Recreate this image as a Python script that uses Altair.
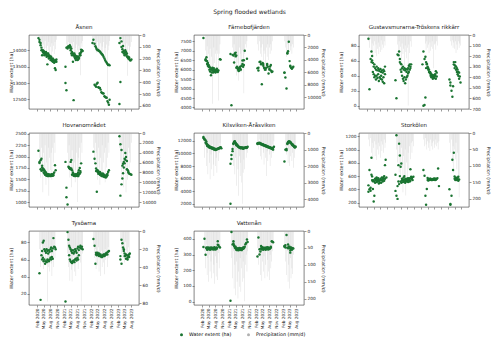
import altair as alt
import pandas as pd

N = None

# observation dates (shared by all sites)
season_days = ["02-20", "03-05", "03-20", "04-01", "04-10", "04-20", "05-01", "05-10", "05-20",
               "06-01", "06-10", "06-20", "07-01", "07-10", "07-20", "08-01", "08-10", "08-20",
               "09-01", "09-10", "09-20", "10-01", "10-10", "10-20", "11-01"]
years = [2020, 2021, 2022, 2023]
last_year_count = 17
dates = [f"{y}-{d}" for y in years for d in (season_days if y < 2023 else season_days[:last_year_count])]

month_ticks = [(2020, 2), (2020, 5), (2020, 8), (2020, 11), (2021, 2), (2021, 5), (2021, 8), (2021, 11),
               (2022, 2), (2022, 5), (2022, 8), (2022, 11), (2023, 2), (2023, 5), (2023, 8)]

# ---------------- Åsnen ----------------
asn_w = [14370, 14320, 14220, 14080, 14000, 13950, 13900, 13950, 13920, 13880, 13850, 13900, 13820, 13850, 13780, 13800, 13760, 13720, 13750, 13700, 13680, 13650, 13700, 13720, N,
         13500, 14080, 14100, 14120, 14100, 14080, 14100, 14050, 13950, 13900, 13850, 13800, 13850, 13780, 13750, 13800, 13720, 13780, 13850, 13900, 13950, 14000, 13980, N, N,
         14220, 14320, 14200, 14120, 14080, 14030, 14000, 14010, 13980, 13960, 13930, 13900, 13880, 13850, 13800, 13750, 13700, 13660, 13620, 13580, 13550, 13560, 13540, N, N,
         14220, 14370, 14270, 14030, 14130, 13980, 13930, 14000, 13880, 13900, 13790, 13800, 13740, 13700, 13690, 13720, N]
asn_w2 = [N, 14250, 14150, 14000, 13850, 14000, 13980, 13850, 13900, 13950, 13800, 13570, 13900, 13750, 13830, 13700, 13800, 13680, 13650, 13720, 13620, 13450, 13400, 13650, N,
          13000, 12780, 14050, 14100, N, 14150, 14000, 13900, 13850, 13650, 12480, 13900, 13750, 13700, 13820, 13700, 13800, 13750, 13900, 13850, 14020, N, N, N, N,
          N, N, 12950, 12920, 12890, 12980, 13010, 12870, 12860, 12850, 12800, 12720, 12700, 12690, 12680, 12600, 12580, 12560, 12550, 12450, 12410, 12340, 12490, N, N,
          12360, 13030, 14100, 13950, N, 13900, 13850, N, 13950, 13820, N, 13750, 13780, N, N, N, N]
asn_p = [40, 90, 30, 120, 60, 150, 80, 140, 50, 110, 170, 90, 130, 60, 150, 100, 200, 70, 140, 90, 160, 60, 120, 40, N,
         N, 80, 120, 60, 140, 100, 180, 70, 150, 120, 60, 170, 110, 190, 80, 130, 160, 90, 120, 340, 70, 100, 50, N, N,
         60, 100, 40, 130, 80, 150, 60, 120, 90, 160, 70, 140, 100, 180, 60, 150, 110, 200, 80, 600, 130, 90, 50, N, N,
         50, 90, 30, 110, 60, 140, 80, 120, 160, 70, 345, 90, 170, 130, 100, 60, N]

# ---------------- Färnebofjärden ----------------
far_w = [7670, N, 6500, 6650, 6450, 6350, 6250, 6170, 6100, 6000, 6050, 5950, 6000, 6080, 5900, 5950, 6000, 5920, 5950, 5950, N, 6550, 6530, N, N,
         6830, 4120, 6780, 6750, 6380, 6850, 6900, 6750, 6150, 6070, 5930, 6100, 6050, 6000, 6200, 6480, 6150, 6250, 7000, N, N, 6580, N, N, N,
         6070, 5950, 6400, 6420, 6280, 5230, 6350, 6300, 6100, 6050, 6000, 6100, 6250, 6150, 5800, 6000, 6170, 6250, 5880, 5900, N, N, N, N, N,
         5850, 5580, 5000, 6880, 6970, 7470, 6450, 6170, 6100, 6050, 6100, 6150, N, N, N, N, N]
far_w2 = [N, N, 6550, 6450, 6300, 6200, 6150, 6000, 5900, 5700, 5850, 6100, 5850, 5900, 6000, 5850, 5900, 6050, 5880, N, N, N, N, N, N,
          N, N, N, N, N, 6820, 6700, 6100, N, 6000, N, 5950, 6150, N, N, 6300, N, 6500, N, N, N, N, N, N, N,
          N, 6100, N, N, 6300, N, N, 6200, N, 6000, N, N, 6300, N, N, 6050, N, 5950, N, N, N, N, N, N, N,
          5830, N, N, 6850, N, N, N, 6200, N, 6080, N, N, N, N, N, N, N]
far_p = [N, N, 2500, 4000, 1800, 5500, 3000, 4500, 2200, 5000, 3500, 11000, 6000, 2000, 4500, 3000, 5500, 2500, 3000, 10500, 3000, 1500, N, N, N,
         N, N, 2000, 3500, 1500, 5000, 2500, 6500, 3000, 4500, 7300, 2000, 5500, 3000, 6000, 2500, 4500, 9350, 3000, 1500, 2000, 1000, N, N, N,
         1500, 2500, 1000, 3000, 2000, 3500, 1500, 4000, 2500, 3000, 5500, 2000, 3500, 1500, 4000, 2000, 3000, 1500, 2500, 1000, N, N, N, N, N,
         1000, 2000, 3500, 1500, 2500, 3000, 1200, 2500, 1800, 3000, 1500, 2000, N, N, N, N, N]

# ---------------- Gustavsmurarna-Tröskens rikkärr ----------------
gus_w = [89, 22, 62, 72, 66, 57, 52, 55, 50, 48, 52, 47, 50, 48, 46, 49, 45, 47, 44, 48, 46, 52, N, N, N,
         34, 10, 68, 67, 72, 62, 56, 55, 50, 52, 48, 50, 47, 49, 45, 48, 50, 53, 55, 52, 55, N, N, N, N,
         55, 72, 62, 65, 58, 55, 52, 50, 48, 45, 44, 42, 40, 41, 38, 40, 42, 46, 44, N, N, N, N, N, N,
         35, 31, 20, 12, 26, 58, 54, 58, 52, 50, 48, 45, 44, 39, 31, N, N]
gus_w2 = [N, N, N, 58, 60, 45, 42, 38, 40, 35, 40, 37, 42, 33, 38, 36, 40, 35, 32, 38, 30, 42, N, N, N,
          N, N, N, N, N, 58, 48, 45, 40, 36, 33, 38, 30, 35, 38, 40, 43, 45, 48, 50, N, N, N, N, N,
          N, 0, 1, 11, 50, 56, 50, 48, 45, 43, 40, 38, 40, 36, 38, 37, 40, 36, 39, N, N, N, N, N, N,
          N, 27, N, N, N, 55, 50, 53, 48, 45, 42, 40, 36, N, N, N, N]
gus_p = [60, 120, 40, 150, 80, 190, 100, 60, 170, 90, 200, 130, 70, 180, 110, 160, 50, 140, 90, 120, 60, 100, N, N, N,
         N, N, 90, 150, 60, 200, 110, 250, 80, 180, 130, 290, 100, 160, 220, 120, 666, 90, 170, 60, 110, N, N, N, N,
         N, N, N, 80, 140, 60, 120, 90, 170, 70, 150, 110, 60, 130, 315, 90, 80, 140, 60, 100, N, N, N, N, N,
         N, 60, 100, 50, 120, 70, 130, 60, 170, 90, 140, 60, 120, 80, 100, N, N]

# ---------------- Hovranområdet ----------------
hov_w = [2128, 1860, 1917, 1950, 1800, 1740, 1720, 1700, 1670, 1650, 1620, 1610, 1600, 1590, 1580, 1600, 1590, 1580, 1600, 1620, 1650, 1810, 1700, N, N,
         1882, 1318, 947, 1776, 1760, 1750, 1882, 1925, 1700, 1650, 1620, 1600, 1590, 1610, 1600, 1620, 1650, 1700, 1750, 1650, 1850, N, N, N, N,
         N, 2107, 1951, 1850, 1740, 1228, 1700, 1680, 1650, 1660, 1640, 1620, 1600, 1630, 1610, 1590, 1580, 1570, 1600, 1620, 1660, 1700, N, N, N,
         2445, 2268, 2141, 1800, 1840, 1880, 1951, 2075, 1990, 1900, 1705, 1680, 1630, 1620, 1610, 1600, N]
hov_w2 = [N, 1880, 1720, 1690, 1760, 1700, 1650, 1630, 1600, 1590, 1580, 1600, 1570, 1610, 1590, 1570, 1600, 1610, 1580, 1590, N, N, N, N, N,
          N, 1107, N, N, 1750, 1730, 1720, 1740, 1600, 1620, 1580, 1590, 1570, 1600, 1580, 1590, 1570, 1600, 1620, 1680, N, N, N, N, N,
          N, N, N, N, 1680, 1700, 1660, 1620, 1640, 1600, 1610, 1580, 1570, 1590, 1560, 1550, 1560, 1540, 1560, 1590, N, N, N, N, N,
          N, 1143, 1390, 1517, 1635, 1760, 1850, 1930, N, 1720, N, 1650, N, N, N, N, N]
hov_p = [N, 5000, 9000, 3000, 7000, 12000, 4000, 8000, 2500, 10500, 6000, 9000, 3000, 12700, 5000, 7500, 4000, 9500, 3000, 6000, 2000, 4000, N, N, N,
         N, N, 4000, 7000, 2500, 9000, 5000, 11000, 3500, 8000, 9000, 6000, 10000, 7500, 4000, 14000, 5000, 8500, 3000, 6500, 2000, 4000, N, N, N,
         N, 3000, 6000, 2000, 8000, 4000, 9500, 3000, 7000, 10500, 5000, 8000, 2500, 9000, 6000, 4000, 10000, 3000, 7000, 5000, 2000, 4000, N, N, N,
         3000, 6000, 9000, 2500, 7000, 11000, 4000, 8000, 12000, 5000, 9500, 3000, 7000, 4000, 6000, 2000, N]

# ---------------- Kilsviken-Åråsviken ----------------
kil_w = [12600, 12340, 12090, 11850, 11450, 11300, 11200, 11100, 11050, 11000, 10950, 10900, 10850, 10800, 10750, 10700, 10650, 10700, 10750, 10800, 10850, 10900, 11000, 10800, N,
         8360, 9100, 10360, 11600, 11850, 11950, 11700, 11450, 11400, 11200, 11100, 11000, 10950, 11000, 10900, 10950, 10900, 10850, 10900, 10950, 11000, 10900, 11050, N, N,
         11600, 11650, 11700, 11600, 11550, 11500, 11450, 11400, 11350, 11300, 11250, 11200, 11150, 11100, 11050, 11000, 10950, 10900, 10850, 10800, 10900, 11050, N, N, N,
         8700, 10600, 10700, 11600, 11800, 11900, 11900, 11800, 11700, 11500, 11450, 11300, 11150, 11000, 11100, N, N]
kil_w2 = [12430, 12200, 11700, 11500, 11200, 11150, 11000, 10950, 10900, 10850, 10800, 10750, 10700, 10650, 10600, 10550, 10600, 10650, 10700, 10750, 10800, 10850, 10900, N, N,
          2000, 9760, 10700, 11500, 11700, 11800, 11600, 11300, 11250, 11100, 11000, 10900, 10850, 10800, 10850, 10800, 10750, 10800, 10850, 10900, 10850, 11000, N, N, N,
          11500, 11550, 11600, 11500, 11450, 11400, 11350, 11300, 11250, 11200, 11150, 11100, 11050, 11000, 10950, 10900, 10850, 10800, 10750, 10700, 10600, N, N, N, N,
          N, N, 10500, 11500, 11700, 11850, 11800, 11700, 11600, 11400, 11300, 11200, 11050, 10950, 11000, N, N]
kil_p = [500, 1500, 800, 2000, 1200, 2500, 900, 1800, 2800, 1300, 2200, 700, 1900, 2600, 1100, 2000, 1500, 2400, 800, 1700, 1200, 600, 1000, N, N,
         N, N, 1200, 2000, 900, 2500, 1500, 3200, 1000, 2200, 3800, 1400, 2600, 1800, 3000, 4280, 2400, 1600, 2200, 900, 1500, 700, 1200, N, N,
         600, 1000, 400, 1400, 800, 1600, 700, 1200, 1900, 900, 1500, 2600, 1100, 1700, 800, 1300, 2000, 1000, 1500, 700, 1200, 500, N, N, N,
         N, 800, 1300, 600, 1800, 1000, 2000, 1400, 900, 1700, 1200, 2100, 800, 1500, 1000, N, N]

# ---------------- Storkölen ----------------
sto_w = [461, 693, 426, 875, 596, 523, 219, 306, 560, 540, 580, 520, 550, 530, 500, 560, 540, 580, 520, 560, 600, 765, 846, 580, N,
         620, 1215, 450, 765, 1088, 910, 740, 790, 560, 540, 580, 600, 520, 560, 550, 530, 570, 540, 520, 702, 560, 580, 540, 590, N,
         N, 693, 606, 306, 171, 406, 571, 550, 540, 560, 550, 540, 545, 555, 560, 550, 540, 560, 555, 570, 716, 450, N, N, N,
         403, 171, 306, 846, 693, 950, 596, 567, 571, 540, 560, 590, 550, N, N, N, N]
sto_w2 = [364, 403, 380, 620, 540, 406, 540, 520, 500, 560, 510, 540, 570, 490, 530, 550, 500, 540, 560, 580, 530, 560, N, N, N,
          378, 306, 258, 520, 480, 600, 520, 500, 540, 510, 530, 550, 500, 540, 520, 560, 510, 550, 570, 530, 590, 560, N, N, N,
          N, N, N, N, N, N, 540, 535, 555, 545, 560, 550, 540, 550, 545, 565, 555, 545, N, N, N, N, N, N, N,
          N, 180, N, N, N, N, 560, 540, 555, 575, 545, 530, N, N, N, N, N]
sto_p = [20, 40, 15, 60, 30, 80, 45, 25, 70, 35, 82, 50, 30, 65, 40, 75, 25, 55, 35, 60, 20, 45, 30, N, N,
         N, 50, 90, 30, 120, 60, 140, 45, 100, 180, 70, 130, 50, 190, 90, 150, 60, 110, 40, 80, 30, 60, 25, 40, N,
         N, 20, 40, 15, 35, 50, 25, 45, 30, 55, 20, 40, 30, 50, 25, 45, 35, 20, 40, 30, 50, 25, N, N, N,
         30, 60, 20, 90, 40, 120, 50, 80, 30, 110, 60, 140, 195, N, N, N, N]

# ---------------- Tysöarna ----------------
tys_w = [N, 44, 13, 65, 70, 80, 82, 72, 70, 68, 72, 70, 67, 71, 69, 72, 74, 70, 73, 85, 75, 74, 72, N, N,
         11, N, 92, 83, 76, 74, 72, 70, 68, 71, 67, 69, 72, 70, 68, 73, 75, 71, 74, 76, 73, 75, 72, N, N,
         N, 84, 76, 55, 68, 67, 68, 66, 67, 65, 66, 64, 63, 65, 64, 66, 65, 67, 68, 66, 69, 70, N, N, N,
         N, 64, 83, 79, 74, 72, 67, 64, 66, 65, 62, 64, 66, 67, N, N, N]
tys_w2 = [N, N, N, N, 60, 62, 58, 60, 55, 58, 57, 60, 59, 58, 60, 62, 60, 63, 61, N, N, N, N, N, N,
          N, N, N, N, 65, 60, 58, 57, 56, 58, 59, 57, 60, 61, 59, 62, 60, 65, N, N, N, N, N, N, N,
          N, N, N, N, 66, 65, 66, N, 64, 64, N, 63, 64, N, 66, 64, N, 66, N, N, N, N, N, N, N,
          N, 60, 55, N, N, 70, 64, N, 61, N, 60, N, 63, N, N, N, N]
tys_p = [N, 20, 40, 15, 35, 25, 42, 18, 38, 30, 22, 78, 40, 28, 45, 20, 36, 50, 25, 40, 15, 30, N, N, N,
         N, N, 25, 40, 20, 55, 30, 43, 56, 38, 28, 45, 22, 50, 35, 25, 42, 30, 20, 35, 78, 15, 25, N, N,
         N, 15, 30, 20, 42, 25, 38, 18, 45, 28, 50, 22, 40, 30, 35, 48, 20, 32, 25, 40, 18, 30, N, N, N,
         N, 10, 25, 15, 30, 20, 35, 12, 28, 22, 33, 18, 26, N, N, N, N]

# ---------------- Vattenån ----------------
vat_w = [348, 400, 298, 340, 335, 338, 342, 336, 340, 338, 335, 341, 337, 340, 336, 339, 342, 338, 384, 360, 350, 345, N, N, N,
         5, 444, 364, 384, 360, 343, 350, 340, 335, 330, 332, 335, 338, 333, 336, 340, 337, 345, 350, 365, 374, 396, 380, N, N,
         287, 408, 334, 319, 354, 345, 340, 338, 342, 336, 340, 338, 343, 339, 341, 337, 340, 345, 384, 381, 378, N, N, N, N,
         350, 360, 424, 344, 364, 350, 340, 325, 335, 330, 340, 338, N, N, N, N, N]
vat_w2 = [N, N, N, 345, 330, 345, 333, 344, 331, 345, 342, 333, 344, 332, 346, 332, 335, 345, 362, N, N, N, N, N, N,
          N, N, N, 370, 355, 350, 338, 330, 328, 340, 327, 342, 330, 340, 328, 335, 345, 340, N, N, N, N, N, N, N,
          N, N, 300, N, 338, 332, 346, 330, 335, 344, 331, 345, 333, 347, 332, 336, 343, 350, N, N, N, N, N, N, N,
          355, 345, N, N, 340, N, 350, 312, 345, 342, N, N, N, N, N, N, N]
vat_p = [N, 60, 110, 40, 130, 80, 150, 70, 120, 90, 140, 60, 125, 100, 156, 75, 135, 95, 145, 65, 110, 50, N, N, N,
         N, 80, 140, 60, 170, 100, 190, 90, 150, 200, 120, 165, 80, 180, 110, 150, 90, 140, 208, 100, 70, 120, 60, N, N,
         50, 100, 70, 130, 60, 147, 90, 120, 75, 140, 100, 60, 135, 85, 120, 145, 70, 110, 90, 60, 40, N, N, N, N,
         40, 90, 130, 60, 150, 100, 170, 80, 140, 110, 127, 70, N, N, N, N, N]

site_names = ["Åsnen", "Färnebofjärden", "Gustavsmurarna-Tröskens rikkärr", "Hovranområdet",
              "Kilsviken-Åråsviken", "Storkölen", "Tysöarna", "Vattenån"]
water_series = [(asn_w, asn_w2), (far_w, far_w2), (gus_w, gus_w2), (hov_w, hov_w2),
                (kil_w, kil_w2), (sto_w, sto_w2), (tys_w, tys_w2), (vat_w, vat_w2)]
precip_series = [asn_p, far_p, gus_p, hov_p, kil_p, sto_p, tys_p, vat_p]
water_domains = [[12210, 14465], [3920, 7830], [-4.3, 94], [894, 2515],
                 [1490, 13240], [136, 1248], [7, 93.3], [-22, 450]]
water_ticks = [[12500, 13000, 13500, 14000], [4000, 4500, 5000, 5500, 6000, 6500, 7000, 7500],
               [0, 20, 40, 60, 80], [1000, 1250, 1500, 1750, 2000, 2250, 2500],
               [2000, 4000, 6000, 8000, 10000, 12000], [200, 400, 600, 800, 1000, 1200],
               [20, 40, 60, 80], [0, 100, 200, 300, 400]]
precip_domains = [[0, 626], [0, 11860], [0, 700], [0, 15000], [0, 4480], [0, 225], [0, 82], [0, 219]]
precip_ticks = [[0, 100, 200, 300, 400, 500, 600], [0, 2000, 4000, 6000, 8000, 10000],
                [0, 100, 200, 300, 400, 500, 600, 700], [0, 2000, 4000, 6000, 8000, 10000, 12000, 14000],
                [0, 1000, 2000, 3000, 4000], [0, 50, 100, 150, 200], [0, 20, 40, 60, 80], [0, 50, 100, 150, 200]]
show_x_labels = [False, False, False, False, False, False, True, True]

legend_labels = ["Water extent (ha)", "Precipitation (mm/d)"]
legend_colors = ["#1a7431", "#b0b0b0"]

FONT = "DejaVu Sans"
PW, PH = 110, 74

color_scale = alt.Scale(domain=legend_labels, range=legend_colors)
legend = alt.Legend(title=None, orient="none", direction="horizontal", legendX=150, legendY=297,
                    symbolType="circle", symbolSize=9, labelFontSize=4.8, labelFont=FONT,
                    columnPadding=14, labelOffset=5, padding=0, symbolOpacity=1)

x_ticks = [alt.DateTime(year=y, month=m, date=1) for y, m in month_ticks]
x_scale = alt.Scale(domain=[alt.DateTime(year=2019, month=12, date=22), alt.DateTime(year=2023, month=9, date=5)])


def make_panel(i):
    w, w2 = water_series[i]
    df = pd.DataFrame({"date": dates, "w": w, "w2": w2, "p": precip_series[i]})
    xaxis = alt.Axis(values=x_ticks, format="%b %Y", labels=show_x_labels[i], labelAngle=270,
                     labelFontSize=4.2, labelFlush=False, labelOverlap=False, title=None, grid=False)
    x = alt.X("date:T", scale=x_scale, axis=xaxis)
    bars = alt.Chart(df).transform_filter("isValid(datum.p)").transform_calculate(
        s="'Precipitation (mm/d)'").mark_bar(size=0.45, opacity=0.45).encode(
        x=x,
        y=alt.Y("p:Q", scale=alt.Scale(domain=precip_domains[i], reverse=True, nice=False),
                axis=alt.Axis(orient="right", values=precip_ticks[i], format="d", title="Precipitation (mm/d)",
                              minExtent=15, maxExtent=15, grid=False)),
        color=alt.Color("s:N", scale=color_scale, legend=legend),
    )
    pts = alt.Chart(df).transform_fold(["w", "w2"], as_=["k", "v"]).transform_filter(
        "isValid(datum.v)").transform_calculate(s="'Water extent (ha)'").mark_circle(
        size=6, opacity=1).encode(
        x=x,
        y=alt.Y("v:Q", scale=alt.Scale(domain=water_domains[i], nice=False, zero=False),
                axis=alt.Axis(orient="left", values=water_ticks[i], format="d", title="Water extent (ha)",
                              minExtent=14, maxExtent=14, grid=False)),
        color=alt.Color("s:N", scale=color_scale, legend=legend),
    )
    return alt.layer(bars, pts).resolve_scale(y="independent").properties(
        width=PW, height=PH,
        title=alt.TitleParams(site_names[i], fontSize=5.5, offset=2.5, font=FONT,
                              fontWeight="normal", anchor="middle", color="#222"))


panels = [make_panel(i) for i in range(len(site_names))]

chart = alt.concat(*panels, columns=3, spacing={"row": 24, "column": 55}, bounds="flush").resolve_scale(
    color="shared").resolve_legend(color="shared").properties(
    title=alt.TitleParams("Spring flooded wetlands", fontSize=6, offset=10, font=FONT,
                          fontWeight="normal", anchor="middle", color="#222"),
    padding=0,
).configure_view(stroke="#333", strokeWidth=0.6).configure_axis(
    labelFont=FONT, titleFont=FONT, labelFontSize=4.3, titleFontSize=4.7, titleFontWeight="normal",
    tickSize=2, tickWidth=0.5, tickColor="#333", labelColor="#222", titleColor="#222",
    labelPadding=1, titlePadding=1.5, domain=False, grid=False)

chart.save("out.html", embed_options={"renderer": "svg", "actions": False})
